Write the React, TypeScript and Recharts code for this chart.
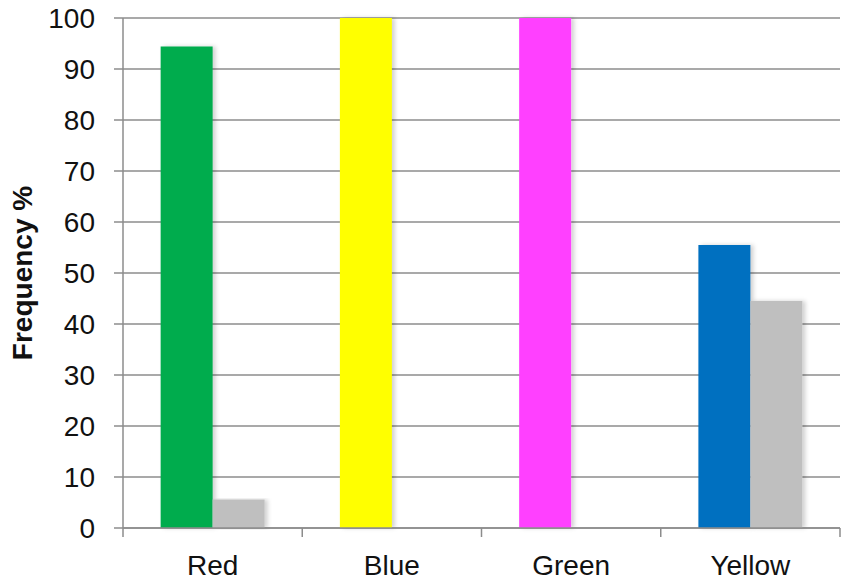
import React from 'react'
import { BarChart, Bar, XAxis, YAxis, CartesianGrid, Cell } from 'recharts'

const categories = ['Red', 'Blue', 'Green', 'Yellow']
const primaryValues = [94.4, 100, 100, 55.5]
const secondaryValues = [5.6, 0, 0, 44.5]
const primaryColors = ['#00AC4E', '#FFFF00', '#FF40FF', '#0070C0']
const yTicks = [0, 10, 20, 30, 40, 50, 60, 70, 80, 90, 100]

const data = categories.map((name, i) => ({
  name,
  primary: primaryValues[i],
  secondary: secondaryValues[i],
}))

const W = 850
const H = 586
const MARGIN = { top: 18, right: 10, bottom: 0, left: 0 }
const Y_AXIS_W = 123
const X_AXIS_H = 58
const BAND = (W - MARGIN.left - MARGIN.right - Y_AXIS_W) / categories.length
const FONT = '"Liberation Sans", Arial, Helvetica, sans-serif'
const AXIS_GRAY = '#8c8c8c'

// category label centred in the band, tick marks on the band edges
function XTick(props: any) {
  const { x, y, payload, index } = props
  const last = index === categories.length - 1
  return (
    <g>
      <line x1={x - BAND / 2} x2={x - BAND / 2} y1={y} y2={y + 9} stroke={AXIS_GRAY} strokeWidth={1.5} />
      {last && <line x1={x + BAND / 2} x2={x + BAND / 2} y1={y} y2={y + 9} stroke={AXIS_GRAY} strokeWidth={1.5} />}
      <text x={x} y={y + 47} textAnchor="middle" fontSize={28} fill="#111" fontFamily={FONT}>
        {payload.value}
      </text>
    </g>
  )
}

function YLabel(props: any) {
  const vb = props.viewBox || { x: 0, y: 0, width: 0, height: 0 }
  const cx = vb.x + 22
  const cy = vb.y + vb.height / 2
  return (
    <text
      x={cx}
      y={cy}
      transform={`rotate(-90 ${cx} ${cy})`}
      textAnchor="middle"
      dominantBaseline="central"
      fontSize={28}
      fontWeight="bold"
      fill="#111"
      fontFamily={FONT}
    >
      Frequency %
    </text>
  )
}

export default function App() {
  return (
    <div style={{ position: 'absolute', left: 0, top: 0, width: W, height: H, background: '#fff' }}>
      <BarChart width={W} height={H} data={data} margin={MARGIN} barCategoryGap="21%" barGap={0}>
        <defs>
          <filter id="barShadow" x="-20%" y="-5%" width="140%" height="110%">
            <feDropShadow dx={3} dy={0} stdDeviation={2} floodColor="#000" floodOpacity={0.18} />
          </filter>
        </defs>
        <CartesianGrid vertical={false} stroke={AXIS_GRAY} strokeWidth={1.5} />
        <XAxis
          dataKey="name"
          height={X_AXIS_H}
          stroke={AXIS_GRAY}
          strokeWidth={1.5}
          tickLine={false}
          tickSize={0}
          tickMargin={0}
          tick={<XTick />}
          interval={0}
        />
        <YAxis
          width={Y_AXIS_W}
          domain={[0, 100]}
          ticks={yTicks}
          interval={0}
          stroke={AXIS_GRAY}
          strokeWidth={1.5}
          tickSize={9}
          tickMargin={19}
          tick={{ fontSize: 28, fill: '#111', fontFamily: FONT }}
          label={<YLabel />}
        />
        <Bar dataKey="primary" isAnimationActive={false} style={{ filter: 'url(#barShadow)' }}>
          {data.map((d, i) => (
            <Cell key={d.name} fill={primaryColors[i]} />
          ))}
        </Bar>
        <Bar dataKey="secondary" fill="#BFBFBF" isAnimationActive={false} style={{ filter: 'url(#barShadow)' }} />
      </BarChart>
    </div>
  )
}
